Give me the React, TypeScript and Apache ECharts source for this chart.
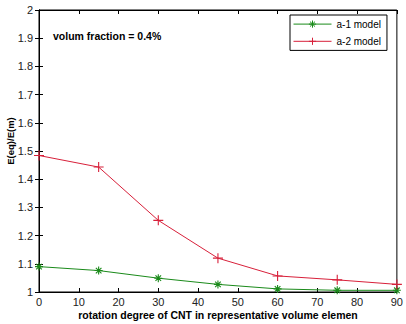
import React, { useEffect, useRef } from "react";
import * as echarts from "echarts";

const angles = [0, 15, 30, 45, 60, 75, 90];
const a1Model = [1.09, 1.076, 1.049, 1.027, 1.011, 1.006, 1.006];
const a2Model = [1.484, 1.443, 1.254, 1.12, 1.057, 1.043, 1.027];
const seriesNames = ["a-1 model", "a-2 model"];

const PLUS = "path://M5 0 L5 10 M0 5 L10 5";
const STAR = "path://M5 0 L5 10 M0 5 L10 5 M1.5 1.5 L8.5 8.5 M8.5 1.5 L1.5 8.5";

const FONT = "Liberation Sans, Arial, sans-serif";
const GREEN = "#1a8a1a";
const RED = "#d8203a";

export default function App() {
  const ref = useRef<HTMLDivElement>(null);
  useEffect(() => {
    if (!ref.current) return;
    const chart = echarts.init(ref.current, undefined, { renderer: "svg" });
    const tickStyle = { show: true, inside: true, length: 4, lineStyle: { color: "#000", width: 1 } };
    const toPairs = (ys: number[]) => angles.map((x, i) => [x, ys[i]]);
    chart.setOption({
      animation: false,
      backgroundColor: "#fff",
      grid: { left: 39, right: 8, top: 10, bottom: 32, show: true, borderColor: "#000", borderWidth: 1, backgroundColor: "#fff" },
      xAxis: [
        {
          type: "value", min: 0, max: 90, interval: 10,
          axisLine: { show: true, lineStyle: { color: "#000" } },
          axisTick: tickStyle, splitLine: { show: false },
          axisLabel: { color: "#222", fontSize: 11, fontFamily: FONT, margin: 4 },
        },
        {
          type: "value", position: "top", min: 0, max: 90, interval: 10,
          axisLine: { show: true, lineStyle: { color: "#000" } },
          axisTick: tickStyle, splitLine: { show: false }, axisLabel: { show: false },
        },
      ],
      yAxis: [
        {
          type: "value", min: 1, max: 2, interval: 0.1,
          axisLine: { show: true, lineStyle: { color: "#000" } },
          axisTick: tickStyle, splitLine: { show: false },
          axisLabel: { color: "#222", fontSize: 11, fontFamily: FONT, margin: 6,
            formatter: (v: number) => String(Math.round(v * 10) / 10) },
        },
        {
          type: "value", position: "right", min: 1, max: 2, interval: 0.1,
          axisLine: { show: true, lineStyle: { color: "#000" } },
          axisTick: tickStyle, splitLine: { show: false }, axisLabel: { show: false },
        },
      ],
      legend: {
        left: 290, top: 15, orient: "vertical",
        backgroundColor: "#fff", borderColor: "#000", borderWidth: 1, borderRadius: 0,
        padding: [3, 6, 3, 3], itemGap: 5, itemWidth: 38, itemHeight: 9,
        textStyle: { fontSize: 10, fontFamily: FONT, color: "#000" },
        data: seriesNames.map((n, i) => ({
          name: n,
          lineStyle: { width: 1 },
          itemStyle: { color: "none", borderColor: i === 0 ? GREEN : RED, borderWidth: 1 },
        })),
      },
      series: [
        {
          name: seriesNames[0], type: "line", data: toPairs(a1Model),
          symbol: STAR, symbolSize: 8, showSymbol: true,
          lineStyle: { color: GREEN, width: 1 },
          itemStyle: { color: "none", borderColor: GREEN, borderWidth: 1.1 },
        },
        {
          name: seriesNames[1], type: "line", data: toPairs(a2Model),
          symbol: PLUS, symbolSize: 10, showSymbol: true,
          lineStyle: { color: RED, width: 1 },
          itemStyle: { color: "none", borderColor: RED, borderWidth: 1.1 },
        },
      ],
      graphic: [
        { type: "text", left: 53, top: 30, style: { text: "volum fraction = 0.4%", font: "bold 10.5px " + FONT, fill: "#000" } },
        { type: "text", x: 10, y: 141, rotation: Math.PI / 2, style: { text: "E(eq)/E(m)", font: "bold 9.5px " + FONT, fill: "#000", align: "center", verticalAlign: "middle" } },
        { type: "text", x: 218, y: 315, style: { text: "rotation degree of CNT in representative volume elemen", font: "bold 10.5px " + FONT, fill: "#000", align: "center", verticalAlign: "middle" } },
      ],
    });
    return () => chart.dispose();
  }, []);
  return <div ref={ref} style={{ width: 406, height: 324, position: "absolute", left: 0, top: 0 }} />;
}
